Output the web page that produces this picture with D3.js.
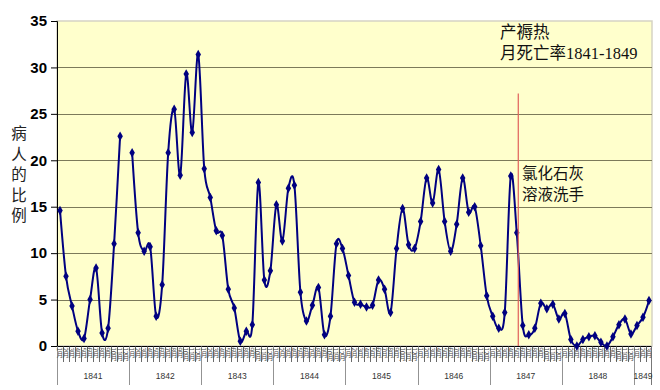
<!DOCTYPE html>
<html>
<head>
<meta charset="utf-8">
<script src="https://cdn.jsdelivr.net/npm/d3@7"></script>
<style>
  body { margin: 0; background: #fff; }
  svg { display: block; }
</style>
</head>
<body>
<div class="chart"></div>
<script>
// chart data (monthly rate, %), one array per year
// ==========================================================================
var years = ["1841", "1842", "1843", "1844", "1845", "1846", "1847", "1848", "1849"];
var monthNames = ["1月", "2月", "3月", "4月", "5月", "6月", "7月", "8月", "9月", "10月", "11月", "12月"];

var rate1841 = [14.6, 7.5, 4.3, 1.6, 0.8, 5.0, 8.4, 1.4, 1.9, 11.0, 22.6, null];
var rate1842 = [20.8, 12.2, 10.2, 10.7, 3.2, 6.6, 20.8, 25.5, 18.4, 29.3, 23.0, 31.4];
var rate1843 = [19.1, 16.0, 12.4, 11.9, 6.1, 4.1, 0.5, 1.6, 2.3, 17.6, 7.1, 8.1];
var rate1844 = [15.2, 11.3, 17.0, 17.3, 5.8, 2.7, 4.4, 6.3, 1.2, 3.2, 11.0, 10.5];
var rate1845 = [7.6, 4.7, 4.5, 4.2, 4.4, 7.1, 6.1, 3.6, 10.5, 14.8, 10.9, 10.5];
var rate1846 = [13.4, 18.1, 15.4, 19.0, 13.4, 10.2, 13.1, 18.1, 14.4, 15.0, 10.8, 5.4];
var rate1847 = [3.2, 1.9, 3.6, 18.3, 12.2, 2.2, 1.2, 1.9, 4.6, 4.0, 4.5, 2.9];
var rate1848 = [3.5, 0.7, 0.0, 0.7, 1.0, 1.1, 0.4, 0.0, 1.0, 2.3, 2.9, 1.3];
var rate1849 = [2.2, 3.1, 4.9];

var yTicks = [0, 5, 10, 15, 20, 25, 30, 35];
var yTitle = "病人的比例";
var titleLines = ["产褥热", "月死亡率1841-1849"];
var noteLines = ["氯化石灰", "溶液洗手"];
var handwashCategory = "1847-5";  // red marker line after this month
var handwashTop = 27.2;

// build one flat list of months
var yearRates = [rate1841, rate1842, rate1843, rate1844, rate1845, rate1846, rate1847, rate1848, rate1849];
var monthData = [];
yearRates.forEach(function(arr, i) {
  arr.forEach(function(v, m) {
    monthData.push({ key: years[i] + "-" + (m + 1), year: years[i], month: monthNames[m], value: v });
  });
});

// set up chart configurations
// ==========================================================================
var svgWidth = 660;
var svgHeight = 390;

var margin = { top: 21, right: 8, bottom: 44, left: 57 };
var width = svgWidth - margin.left - margin.right;
var height = svgHeight - margin.top - margin.bottom;

var svg = d3.select(".chart")
  .append("svg")
  .attr("width", svgWidth)
  .attr("height", svgHeight);

var chartGroup = svg.append("g")
  .attr("transform", `translate(${margin.left}, ${margin.top})`);

// scales
var xScale = d3.scaleBand()
  .domain(monthData.map(d => d.key))
  .range([0, width]);

var yScale = d3.scaleLinear()
  .domain([0, 35])
  .range([height, 0]);

var cx = d => xScale(d.key) + xScale.bandwidth() / 2;

// plot background + border
chartGroup.append("rect")
  .attr("width", width)
  .attr("height", height)
  .attr("fill", "#ffffcc")
  .attr("stroke", "#d6d3c4")
  .attr("stroke-width", 1.5);

// horizontal gridlines
chartGroup.append("g")
  .selectAll("line")
  .data(yTicks.filter(t => t > 0 && t < 35))
  .enter()
  .append("line")
  .attr("x1", 0)
  .attr("x2", width)
  .attr("y1", d => Math.round(yScale(d)) + 0.5)
  .attr("y2", d => Math.round(yScale(d)) + 0.5)
  .attr("stroke", "#7c7a5a")
  .attr("stroke-width", 1);

// y axis
var leftAxis = d3.axisLeft(yScale)
  .tickValues(yTicks)
  .tickSize(6)
  .tickPadding(4);

var yAxis = chartGroup.append("g").call(leftAxis);
yAxis.select(".domain").attr("stroke", "#000");
yAxis.selectAll("line").attr("stroke", "#000");
yAxis.selectAll("text")
  .attr("font-family", "Liberation Sans, Arial, sans-serif")
  .attr("font-size", 15)
  .attr("font-weight", "bold")
  .attr("fill", "#000");

// x axis: month row + year row
var xAxisG = chartGroup.append("g")
  .attr("transform", `translate(0, ${height})`);

xAxisG.append("line")
  .attr("x1", 0).attr("x2", width)
  .attr("y1", 0.5).attr("y2", 0.5)
  .attr("stroke", "#000");

// month separators
xAxisG.selectAll(".mtick")
  .data(monthData)
  .enter()
  .append("line")
  .attr("class", "mtick")
  .attr("x1", d => Math.round(xScale(d.key)) + 0.5)
  .attr("x2", d => Math.round(xScale(d.key)) + 0.5)
  .attr("y1", 0)
  .attr("y2", d => d.month === monthNames[0] ? 39 : 16)
  .attr("stroke", d => d.month === monthNames[0] ? "#777" : "#444")
  .attr("stroke-width", 0.8);

xAxisG.append("line")
  .attr("x1", width - 0.5).attr("x2", width - 0.5)
  .attr("y1", 0).attr("y2", 39)
  .attr("stroke", "#777");

// vertical month names
xAxisG.selectAll(".mlabel")
  .data(monthData)
  .enter()
  .append("text")
  .attr("class", "mlabel")
  .attr("x", cx)
  .attr("y", 1.5)
  .style("writing-mode", "vertical-rl")
  .attr("font-family", "Noto Sans CJK SC, sans-serif")
  .attr("font-size", 6.5)
  .attr("fill", "#444")
  .text(d => d.month);

// year labels, centered on their months
xAxisG.selectAll(".ylabel")
  .data(years)
  .enter()
  .append("text")
  .attr("class", "ylabel")
  .attr("x", function(yr) {
    var ms = monthData.filter(d => d.year === yr);
    var x0 = xScale(ms[0].key);
    var x1 = xScale(ms[ms.length - 1].key) + xScale.bandwidth();
    return (x0 + x1) / 2;
  })
  .attr("y", 33)
  .attr("text-anchor", "middle")
  .attr("font-family", "Liberation Sans, Arial, sans-serif")
  .attr("font-size", 8.5)
  .attr("fill", "#333")
  .text(d => d);

// smoothed line with gap for missing month
var line = d3.line()
  .defined(d => d.value !== null)
  .x(cx)
  .y(d => yScale(d.value))
  .curve(d3.curveCardinal.tension(0));

chartGroup.append("path")
  .datum(monthData)
  .attr("d", line)
  .attr("fill", "none")
  .attr("stroke", "#000080")
  .attr("stroke-width", 2);

// diamond markers
chartGroup.selectAll(".marker")
  .data(monthData.filter(d => d.value !== null))
  .enter()
  .append("path")
  .attr("class", "marker")
  .attr("d", d3.symbol().type(d3.symbolDiamond).size(26))
  .attr("transform", d => `translate(${cx(d)}, ${yScale(d.value)})`)
  .attr("fill", "#000080");

// red handwashing line
var hx = xScale(handwashCategory) + xScale.bandwidth() / 2 + 1.5;
chartGroup.append("line")
  .attr("x1", hx).attr("x2", hx)
  .attr("y1", yScale(handwashTop))
  .attr("y2", yScale(0))
  .attr("stroke", "#e0605a")
  .attr("stroke-width", 1.2);

// title text
chartGroup.append("g")
  .selectAll("text")
  .data(titleLines)
  .enter()
  .append("text")
  .attr("x", 443)
  .attr("y", (d, i) => 17 + i * 21)
  .attr("font-family", "Liberation Serif, Noto Sans CJK SC, serif")
  .attr("font-size", 16.5)
  .attr("fill", "#111")
  .text(d => d);

// annotation
chartGroup.append("g")
  .selectAll("text")
  .data(noteLines)
  .enter()
  .append("text")
  .attr("x", 465)
  .attr("y", (d, i) => 158 + i * 21)
  .attr("font-family", "Noto Sans CJK SC, serif")
  .attr("font-size", 15.5)
  .attr("fill", "#111")
  .text(d => d);

// y axis title, stacked characters
svg.append("g")
  .selectAll("text")
  .data(yTitle.split(""))
  .enter()
  .append("text")
  .attr("x", 19)
  .attr("y", (d, i) => 139 + i * 20.5)
  .attr("text-anchor", "middle")
  .attr("font-family", "Noto Sans CJK SC, serif")
  .attr("font-size", 15.5)
  .attr("fill", "#222")
  .text(d => d);
</script>
</body>
</html>
